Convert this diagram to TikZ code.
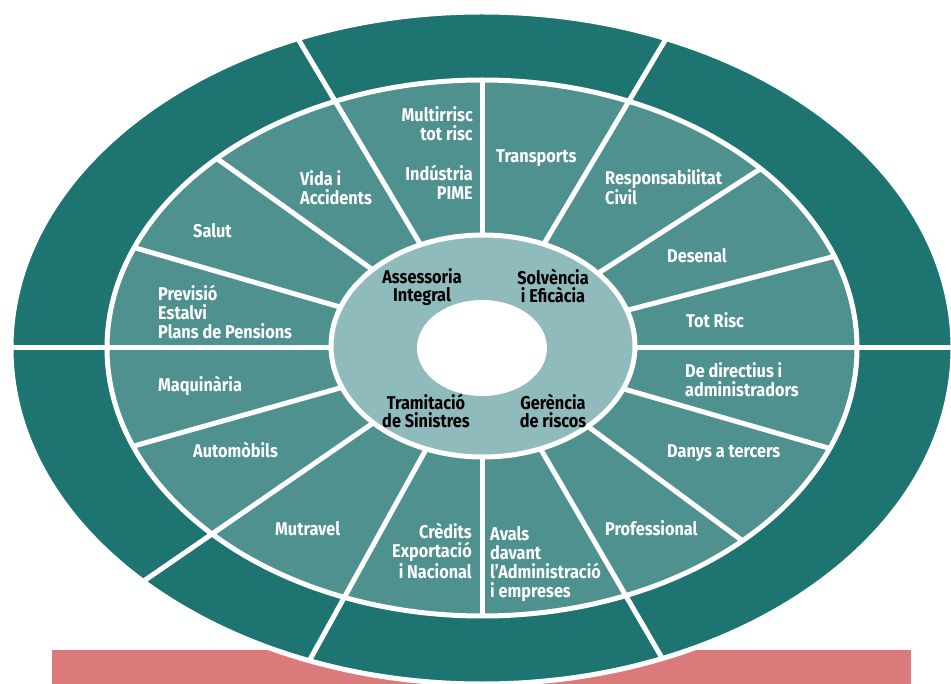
\documentclass[tikz,border=0pt]{standalone}
\usepackage{fontspec}
\setmainfont{Fira Sans}[FakeStretch=0.88]
\definecolor{darkteal}{HTML}{1E7470}
\definecolor{midteal}{HTML}{4F918F}
\definecolor{lightteal}{HTML}{8FBBBC}
\definecolor{pinkbar}{HTML}{DB7A7B}
\begin{document}
\begin{tikzpicture}[x=1pt,y=-1pt,
  ringsep/.style={white,line width=5pt},
  wlabel/.style={text=white,font=\fontsize{18.5}{19}\selectfont\bfseries,inner sep=0pt},
  blabel/.style={text=black,font=\fontsize{18.5}{18.5}\selectfont\bfseries,inner sep=0pt,align=center}]
\useasboundingbox (0,0) rectangle (951,684);
% pink bar behind the wheel
\fill[pinkbar] (52,650) rectangle (911,684);
\coordinate (c) at (482,348);
% outer dark ring
\filldraw[fill=darkteal,draw=white,line width=5pt] (c) ellipse [x radius=471,y radius=336];
% middle ring
\filldraw[fill=midteal,draw=white,line width=5pt] (c) ellipse [x radius=375,y radius=268];
% separators through both rings
\foreach \t in {0,67,113,180,224,248.5,292.5}
  \draw[ringsep] (c) -- ({482+471*cos(\t)},{348-336*sin(\t)});
% separators of the middle ring only
\foreach \t in {20,42,90,135,158,201.5,270,314,338}
  \draw[ringsep] (c) -- ({482+375*cos(\t)},{348-268*sin(\t)});
% inner light ring
\filldraw[fill=lightteal,draw=white,line width=5pt] (483,346) ellipse [x radius=152,y radius=111];
% white centre
\fill[white] (482,348) ellipse [x radius=65,y radius=48];

% labels of the middle ring (multi-line nodes are anchored at the baseline of their last line)
\node[wlabel,align=right,anchor=base east] (multi) at (473,200) {Multirrisc\\tot risc\\[21pt]Indústria\\PIME};
\node[wlabel,anchor=base west] (transports) at (496,163) {Transports};
\node[wlabel,align=left,anchor=base west] (resp) at (605,205) {Responsabilitat\\Civil};
\node[wlabel,anchor=base west] (desenal) at (667,263) {Desenal};
\node[wlabel,anchor=base west] (totrisc) at (686,328) {Tot Risc};
\node[wlabel,align=left,anchor=base west] (directius) at (685,397) {De directius i\\administradors};
\node[wlabel,anchor=base west] (danys) at (667,458) {Danys a tercers};
\node[wlabel,anchor=base west] (professional) at (605,535) {Professional};
\node[wlabel,align=left,anchor=base west] (avals) at (490,597) {Avals\\davant\\l’Administració\\i empreses};
\node[wlabel,align=right,anchor=base east] (credits) at (472,578) {Crèdits\\Exportació\\i Nacional};
\node[wlabel,anchor=base west] (mutravel) at (275,535) {Mutravel};
\node[wlabel,anchor=base west] (automobils) at (193,458) {Automòbils};
\node[wlabel,anchor=base west] (maquinaria) at (158,392) {Maquinària};
\node[wlabel,align=left,anchor=base west] (previsio) at (158,338.5) {Previsió\\Estalvi\\Plans de Pensions};
\node[wlabel,anchor=base west] (salut) at (193,238) {Salut};
\node[wlabel,align=left,anchor=base west] (vida) at (300,205) {Vida i\\Accidents};

% labels of the inner ring
\node[blabel,anchor=base] (assessoria) at (422,302) {Assessoria\\Integral};
\node[blabel,anchor=base] (solvencia) at (553,303) {Solvència\\i Eficàcia};
\node[blabel,anchor=base] (tramitacio) at (426,428) {Tramitació\\de Sinistres};
\node[blabel,anchor=base] (gerencia) at (553,428) {Gerència\\de riscos};
\end{tikzpicture}
\end{document}
